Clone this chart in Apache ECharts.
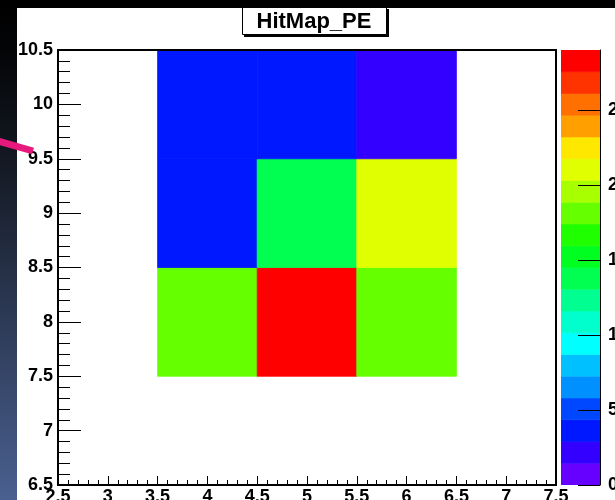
<!DOCTYPE html>
<html>
<head>
<meta charset="utf-8">
<script src="https://cdn.jsdelivr.net/npm/echarts@6/dist/echarts.min.js"></script>
<style>
html,body{margin:0;padding:0;background:#fff;}
#c{width:615px;height:500px;}
</style>
</head>
<body>
<div id="c"></div>
<script>
// ---- data ----
var titleText = 'HitMap_PE';
var xCenters = [4, 5, 6];          // bin centres along x
var yCenters = [8, 9, 10];         // bin centres along y
var rowY8  = [18, 29, 18];         // counts at y = 8
var rowY9  = [3, 14, 21];          // counts at y = 9
var rowY10 = [3, 3, 2];            // counts at y = 10
var binWidth = 1;
var zMax = 29;
var nLevels = 20;
var zTicks = [0, 5, 10, 15, 20, 25];
var palette = ['#6600ff','#3300ff','#0018ff','#0048ff','#0090ff','#00c0ff','#00ffff','#00ffcc','#00ff90','#00ff50',
               '#00ff20','#20ff00','#66ff00','#a8ff00','#e0ff00','#ffe800','#ffa000','#ff7000','#ff3300','#ff0000'];

var rows = [rowY8, rowY9, rowY10];
var cells = [];
for (var j = 0; j < yCenters.length; j++) {
  for (var i = 0; i < xCenters.length; i++) {
    cells.push([xCenters[i], yCenters[j], rows[j][i]]);
  }
}
var levels = [];
for (var k = 0; k < nLevels; k++) levels.push([k]);

function levelColor(v) {
  var idx = Math.floor(v / (zMax / nLevels));
  if (idx >= nLevels) idx = nLevels - 1;
  if (idx < 0) idx = 0;
  return palette[idx];
}

var FONT = 'Liberation Sans';
var chart = echarts.init(document.getElementById('c'), null, {renderer: 'canvas'});

var labelStyle = {color: '#000', fontSize: 18, fontWeight: 'bold', fontFamily: FONT};

chart.setOption({
  animation: false,
  backgroundColor: '#fff',
  grid: [
    {left: 58, top: 50, width: 498, height: 435, show: true, borderColor: '#000', borderWidth: 2,
     backgroundColor: 'transparent', z: 5, containLabel: false, outerBoundsMode: 'none'},
    {left: 561, top: 50, width: 39, height: 435, show: false, containLabel: false, outerBoundsMode: 'none'}
  ],
  xAxis: [
    {type: 'value', gridIndex: 0, min: 2.5, max: 7.5, interval: 0.5,
     axisLine: {show: true, onZero: false, lineStyle: {color: '#000', width: 2}},
     axisTick: {show: true, inside: true, length: 9, lineStyle: {color: '#000', width: 1}},
     minorTick: {show: true, splitNumber: 5, length: 5, lineStyle: {color: '#000', width: 1}},
     axisLabel: Object.assign({margin: 3, hideOverlap: false}, labelStyle),
     splitLine: {show: false}},
    {type: 'value', gridIndex: 1, min: 0, max: 1, show: false}
  ],
  yAxis: [
    {type: 'value', gridIndex: 0, min: 6.5, max: 10.5, interval: 0.5,
     axisLine: {show: true, onZero: false, lineStyle: {color: '#000', width: 2}},
     axisTick: {show: true, inside: true, length: 23, lineStyle: {color: '#000', width: 1}},
     minorTick: {show: true, splitNumber: 5, length: 12, lineStyle: {color: '#000', width: 1}},
     axisLabel: Object.assign({margin: 5, hideOverlap: false}, labelStyle),
     splitLine: {show: false}},
    {type: 'value', gridIndex: 1, position: 'right', min: 0, max: zMax,
     axisLine: {show: true, onZero: false, lineStyle: {color: '#000', width: 1}},
     axisTick: {show: true, inside: true, length: 22, customValues: zTicks, lineStyle: {color: '#000', width: 1}},
     axisLabel: Object.assign({margin: 8, customValues: zTicks, hideOverlap: false}, labelStyle),
     splitLine: {show: false}, z: 10}
  ],
  series: [
    {type: 'custom', xAxisIndex: 0, yAxisIndex: 0, data: cells, clip: true,
     renderItem: function (params, api) {
       var x = api.value(0), y = api.value(1), v = api.value(2);
       var p0 = api.coord([x - binWidth / 2, y + binWidth / 2]);
       var p1 = api.coord([x + binWidth / 2, y - binWidth / 2]);
       var c = levelColor(v);
       return {type: 'rect', shape: {x: p0[0], y: p0[1], width: p1[0] - p0[0], height: p1[1] - p0[1]},
               style: {fill: c, stroke: c, lineWidth: 0.8}};
     }},
    {type: 'custom', xAxisIndex: 1, yAxisIndex: 1, data: levels, z: 1, clip: true,
     renderItem: function (params, api) {
       var k = api.value(0);
       var step = zMax / nLevels;
       var p0 = api.coord([0, (k + 1) * step]);
       var p1 = api.coord([1, k * step]);
       return {type: 'rect', shape: {x: p0[0], y: p0[1], width: p1[0] - p0[0], height: p1[1] - p0[1]},
               style: {fill: palette[k], stroke: palette[k], lineWidth: 0.6}};
     }}
  ],
  graphic: [
    {type: 'rect', z: -10, silent: true, shape: {x: 0, y: 0, width: 17, height: 500},
     style: {fill: {type: 'linear', x: 0, y: 0, x2: 0, y2: 1, colorStops: [
       {offset: 0, color: '#000000'}, {offset: 0.1, color: '#040507'}, {offset: 0.3, color: '#121720'},
       {offset: 0.6, color: '#2a3650'}, {offset: 1, color: '#4a6090'}]}}},
    {type: 'rect', z: -10, silent: true, shape: {x: 0, y: 0, width: 615, height: 8}, style: {fill: '#000'}},
    {type: 'line', z: 100, silent: true, shape: {x1: -2, y1: 141, x2: 33, y2: 151},
     style: {stroke: '#e8197d', lineWidth: 7}},
    {type: 'rect', z: 100, silent: true, shape: {x: 244, y: 9, width: 145, height: 28}, style: {fill: '#000'}},
    {type: 'rect', z: 101, silent: true, shape: {x: 242.5, y: 7.5, width: 144, height: 27},
     style: {fill: '#fff', stroke: '#000', lineWidth: 1}},
    {type: 'text', z: 102, silent: true, x: 314, y: 21.5,
     style: {text: titleText, fill: '#000', fontSize: 22, fontWeight: 'bold', fontFamily: FONT,
             align: 'center', verticalAlign: 'middle'}}
  ]
});
</script>
</body>
</html>
